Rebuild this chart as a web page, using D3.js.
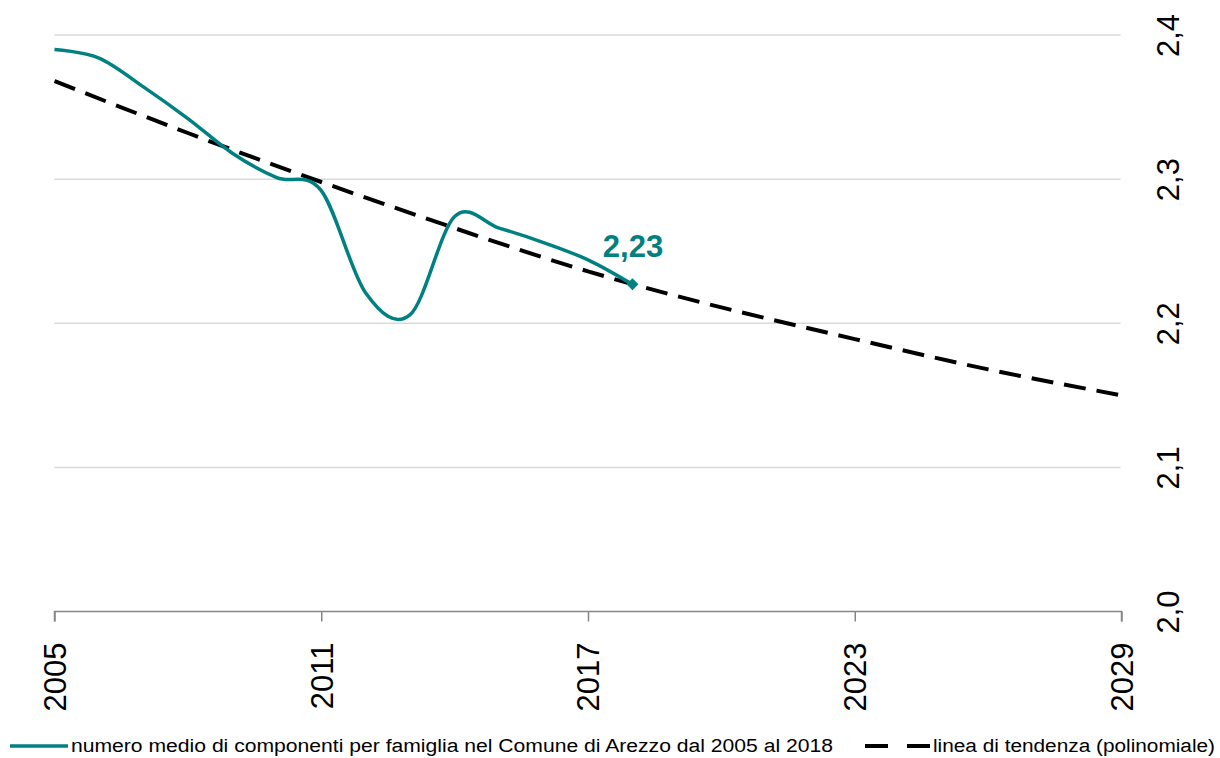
<!DOCTYPE html>
<html>
<head>
<meta charset="utf-8">
<script src="https://cdn.jsdelivr.net/npm/d3@7/dist/d3.min.js"></script>
<style>
  html, body { margin: 0; padding: 0; background: #ffffff; }
  svg { display: block; font-family: "Liberation Sans", Arial, sans-serif; }
</style>
</head>
<body>
<svg id="chart" width="1220" height="758"></svg>
<script>
// ---- data ----
const years = [2005, 2006, 2007, 2008, 2009, 2010, 2011, 2012, 2013, 2014, 2015, 2016, 2017, 2018];
const values = [2.390, 2.384, 2.364, 2.342, 2.318, 2.301, 2.292, 2.221, 2.206, 2.274, 2.266, 2.256, 2.244, 2.227];
const trendYears = [2005, 2008, 2011, 2014, 2017, 2020, 2023, 2026, 2029];
const trendValues = [2.368, 2.332, 2.298, 2.266, 2.236, 2.211, 2.189, 2.168, 2.150];
const xTicks = [2005, 2011, 2017, 2023, 2029];
const yTicks = [2.0, 2.1, 2.2, 2.3, 2.4];
const seriesName = "numero medio di componenti per famiglia nel Comune di Arezzo dal 2005 al 2018";
const trendName = "linea di tendenza (polinomiale)";
const lastLabel = "2,23";

// ---- layout ----
const svg = d3.select("#chart");
const teal = "#008080";
const x = d3.scaleLinear().domain([2005, 2029]).range([54.5, 1121.5]);
const y = d3.scaleLinear().domain([2.0, 2.4]).range([611.5, 35]);
const fmt = v => d3.format(".1f")(v).replace(".", ",");

// gridlines
svg.append("g")
  .selectAll("line")
  .data(yTicks.filter(v => v > 2.0))
  .join("line")
  .attr("x1", x(2005)).attr("x2", x(2029) - 1)
  .attr("y1", d => y(d)).attr("y2", d => y(d))
  .attr("stroke", "#d9d9d9").attr("stroke-width", 1.5);

// x axis
const xAxis = d3.axisBottom(x).tickValues(xTicks).tickSize(10).tickFormat(d3.format("d"));
const gx = svg.append("g").attr("transform", `translate(0,${y(2.0)})`).call(xAxis);
gx.select(".domain").attr("stroke", "#868686").attr("stroke-width", 1.5)
  .attr("d", `M${x(2005)},10V0H${x(2029)}V10`);
gx.selectAll(".tick line").attr("stroke", "#868686").attr("stroke-width", 1.5);
gx.selectAll(".tick text")
  .attr("font-size", 31).attr("fill", "#000")
  .attr("font-family", "Liberation Sans, Arial, sans-serif")
  .attr("text-anchor", "end")
  .attr("transform", "translate(0,31) rotate(-90)")
  .attr("x", 0).attr("y", 0).attr("dy", "0.35em");

// y axis labels (right side, rotated)
const yAxis = d3.axisRight(y).tickValues(yTicks).tickSize(0).tickFormat(fmt);
const gy = svg.append("g").attr("transform", `translate(1168,0)`).call(yAxis);
gy.select(".domain").remove();
gy.selectAll(".tick text")
  .attr("font-size", 31).attr("fill", "#000")
  .attr("font-family", "Liberation Sans, Arial, sans-serif")
  .attr("text-anchor", "middle")
  .attr("transform", "rotate(-90)")
  .attr("x", 0).attr("y", 0).attr("dy", "0.35em");

// trend line
const trendLine = d3.line().x(d => x(d[0])).y(d => y(d[1])).curve(d3.curveNatural);
svg.append("path")
  .datum(trendYears.map((yr, i) => [yr, trendValues[i]]))
  .attr("d", trendLine)
  .attr("fill", "none").attr("stroke", "#000").attr("stroke-width", 4)
  .attr("stroke-dasharray", "22,11");

// data series
const dataLine = d3.line().x(d => x(d[0])).y(d => y(d[1])).curve(d3.curveCardinal.tension(0));
svg.append("path")
  .datum(years.map((yr, i) => [yr, values[i]]))
  .attr("d", dataLine)
  .attr("fill", "none").attr("stroke", teal).attr("stroke-width", 3.5);

// last point marker (square diamond)
const lastYear = years[years.length - 1], lastVal = values[values.length - 1];
svg.append("path")
  .attr("d", d3.symbol().type(d3.symbolSquare).size(72))
  .attr("transform", `translate(${x(lastYear)},${y(lastVal)}) rotate(45)`)
  .attr("fill", teal);

svg.append("text")
  .attr("x", x(lastYear) + 0.5).attr("y", y(lastVal) - 27)
  .attr("text-anchor", "middle")
  .attr("font-size", 31).attr("font-weight", "bold")
  .attr("fill", teal)
  .text(lastLabel);

// legend
const lg = svg.append("g");
lg.append("line").attr("x1", 10).attr("x2", 68).attr("y1", 746).attr("y2", 746)
  .attr("stroke", teal).attr("stroke-width", 3.5);
lg.append("text").attr("x", 71).attr("y", 752)
  .attr("font-size", 18).attr("fill", "#000")
  .attr("textLength", 762).attr("lengthAdjust", "spacingAndGlyphs")
  .text(seriesName);
lg.append("line").attr("x1", 865).attr("x2", 932).attr("y1", 746).attr("y2", 746)
  .attr("stroke", "#000").attr("stroke-width", 4)
  .attr("stroke-dasharray", "23,19");
lg.append("text").attr("x", 933).attr("y", 752)
  .attr("font-size", 18).attr("fill", "#000")
  .attr("textLength", 282).attr("lengthAdjust", "spacingAndGlyphs")
  .text(trendName);
</script>
</body>
</html>
